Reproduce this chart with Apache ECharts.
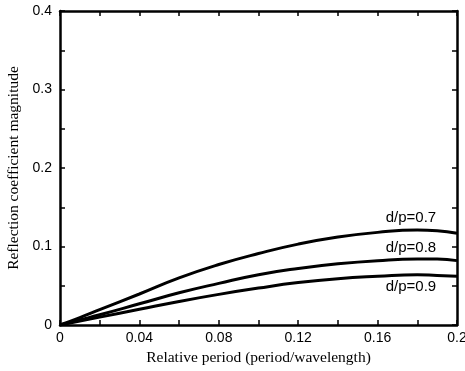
<!DOCTYPE html>
<html>
<head>
<meta charset="utf-8">
<script src="https://cdn.jsdelivr.net/npm/echarts@6/dist/echarts.min.js"></script>
<style>
  html, body { margin: 0; padding: 0; background: #fff; }
  #chart { width: 465px; height: 371px; }
</style>
</head>
<body>
<div id="chart"></div>
<script>
// relative period values (x)
const periods = [0, 0.01, 0.02, 0.04, 0.06, 0.08, 0.10, 0.12, 0.14, 0.16, 0.18, 0.19, 0.2];
// reflection coefficient magnitude per d/p
const dp07 = [0, 0.0095, 0.0195, 0.0395, 0.060, 0.077, 0.091, 0.103, 0.112, 0.118, 0.121, 0.120, 0.117];
const dp08 = [0, 0.0065, 0.013, 0.027, 0.041, 0.053, 0.064, 0.072, 0.078, 0.082, 0.084, 0.084, 0.082];
const dp09 = [0, 0.005, 0.0100, 0.020, 0.030, 0.039, 0.047, 0.054, 0.059, 0.062, 0.064, 0.063, 0.062];
const seriesNames = ["d/p=0.7", "d/p=0.8", "d/p=0.9"];
// where each curve's label sits (data coords)
const labelPos = [[0.1768, 0.137], [0.1768, 0.0987], [0.1768, 0.0484]];

const chart = echarts.init(document.getElementById("chart"));

const tickCommon = {
  axisLine: { show: true, onZero: false, lineStyle: { color: "#000", width: 2.5 } },
  axisTick: { show: true, inside: true, length: 5, lineStyle: { color: "#000", width: 1.5 } },
  splitLine: { show: false },
};

// ticks every 0.02 / 0.05, labels only on every second one
const xFmt = (v) => (Math.round(v * 100) % 4 === 0 ? String(+v.toFixed(2)) : "");
const yFmt = (v) => (Math.round(v * 100) % 10 === 0 ? String(+v.toFixed(1)) : "");

const makeSeries = (name, vals, pos) => ({
  name: name,
  type: "line",
  data: periods.map((p, i) => [p, vals[i]]),
  smooth: true,
  showSymbol: false,
  lineStyle: { color: "#000", width: 3 },
  markPoint: {
    symbolSize: 0,
    data: [{ coord: pos, value: name }],
    label: {
      show: true,
      position: "inside",
      formatter: name,
      color: "#000",
      fontFamily: "Liberation Sans",
      fontSize: 15,
    },
  },
});

chart.setOption({
  animation: false,
  grid: { left: 60, right: 8, top: 11, bottom: 46, outerBoundsMode: "none", containLabel: false },
  xAxis: [
    {
      type: "value",
      min: 0,
      max: 0.2,
      interval: 0.02,
      name: "Relative period (period/wavelength)",
      nameLocation: "middle",
      nameGap: 23,
      nameTextStyle: { fontFamily: "Liberation Serif", fontSize: 15.5, color: "#000" },
      axisLabel: { color: "#000", fontFamily: "Liberation Sans", fontSize: 14, margin: 6, formatter: xFmt },
      ...tickCommon,
    },
    {
      type: "value",
      position: "top",
      min: 0,
      max: 0.2,
      interval: 0.02,
      axisLabel: { show: false },
      ...tickCommon,
    },
  ],
  yAxis: [
    {
      type: "value",
      min: 0,
      max: 0.4,
      interval: 0.05,
      name: "Reflection coefficient magnitude",
      nameLocation: "middle",
      nameGap: 31,
      nameTextStyle: { fontFamily: "Liberation Serif", fontSize: 15.5, color: "#000" },
      axisLabel: { color: "#000", fontFamily: "Liberation Sans", fontSize: 14, margin: 8, formatter: yFmt },
      ...tickCommon,
    },
    {
      type: "value",
      position: "right",
      min: 0,
      max: 0.4,
      interval: 0.05,
      axisLabel: { show: false },
      ...tickCommon,
    },
  ],
  series: [
    makeSeries(seriesNames[0], dp07, labelPos[0]),
    makeSeries(seriesNames[1], dp08, labelPos[1]),
    makeSeries(seriesNames[2], dp09, labelPos[2]),
  ],
});
</script>
</body>
</html>
